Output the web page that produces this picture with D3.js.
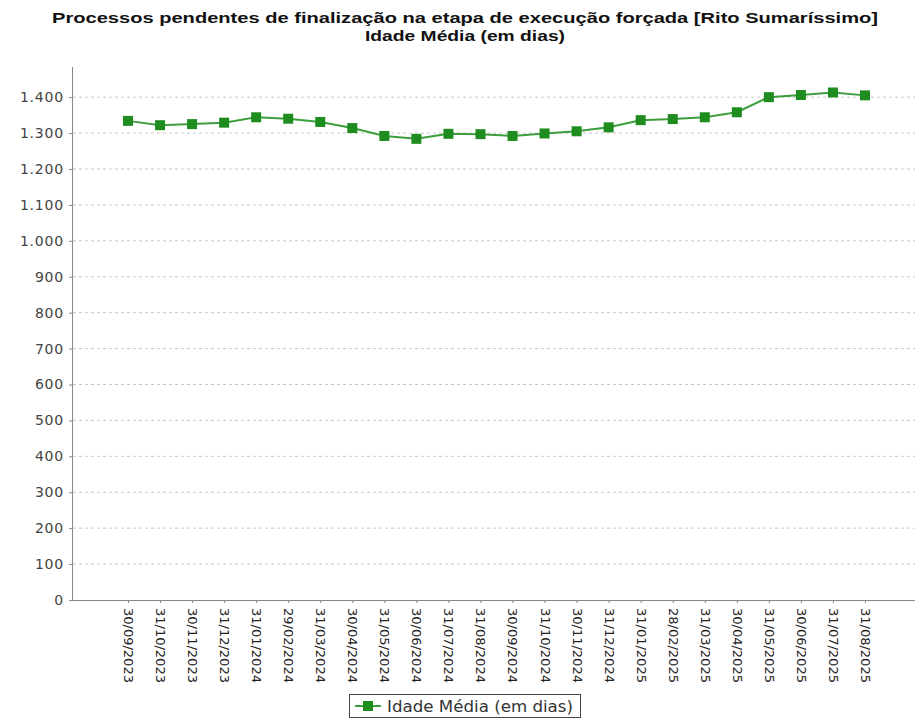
<!DOCTYPE html>
<html>
<head>
<meta charset="utf-8">
<script src="https://cdn.jsdelivr.net/npm/d3@7"></script>
<style>
  body { margin: 0; background: #fff; }
  svg { display: block; }
</style>
</head>
<body>
<svg id="chart" width="917" height="720"></svg>
<script>
const titleLines = ["Processos pendentes de finalização na etapa de execução forçada [Rito Sumaríssimo]", "Idade Média (em dias)"];
const categories = ["30/09/2023","31/10/2023","30/11/2023","31/12/2023","31/01/2024","29/02/2024","31/03/2024","30/04/2024","31/05/2024","30/06/2024","31/07/2024","31/08/2024","30/09/2024","31/10/2024","30/11/2024","31/12/2024","31/01/2025","28/02/2025","31/03/2025","30/04/2025","31/05/2025","30/06/2025","31/07/2025","31/08/2025"];
const seriesName = "Idade Média (em dias)";
const values = [1334,1322,1325,1329,1344,1340,1331,1314,1292,1284,1298,1297,1292,1299,1305,1316,1336,1339,1344,1358,1400,1406,1413,1405];
const yTicks = [0,100,200,300,400,500,600,700,800,900,1000,1100,1200,1300,1400];

const svg = d3.select("#chart");
const axisX = 73, axisRight = 915, yBottom = 600, yTop = 67;

const fmt = v => d3.format(",")(v).replace(/,/g, ".");

const y = d3.scaleLinear().domain([0, 1484]).range([yBottom, yTop]);
const x = d3.scalePoint().domain(categories).range([128, 865]);

// title
const titleWidths = [826, 200];
svg.append("g").selectAll("text").data(titleLines).join("text")
  .attr("x", 465).attr("y", (d, i) => 23 + i * 18)
  .attr("text-anchor", "middle")
  .attr("font-family", "Liberation Sans, Arial, sans-serif")
  .attr("font-weight", "bold").attr("font-size", 15.5)
  .attr("fill", "#111")
  .attr("textLength", (d, i) => titleWidths[i])
  .attr("lengthAdjust", "spacingAndGlyphs")
  .text(d => d);

// gridlines
svg.append("g").selectAll("line").data(yTicks.filter(d => d > 0)).join("line")
  .attr("x1", axisX).attr("x2", axisRight)
  .attr("y1", d => y(d)).attr("y2", d => y(d))
  .attr("stroke", "#c8c8c8").attr("stroke-width", 1)
  .attr("stroke-dasharray", "3,3");

// y axis
const yAxis = svg.append("g").attr("transform", `translate(${axisX},0)`)
  .call(d3.axisLeft(y).tickValues(yTicks).tickFormat(fmt).tickSize(4).tickPadding(5));
yAxis.select(".domain").attr("stroke", "#888").attr("d", `M-0.5,${yTop}V${yBottom}`);
yAxis.selectAll(".tick line").attr("stroke", "#888");
yAxis.selectAll(".tick text").attr("font-family", "DejaVu Sans, sans-serif")
  .attr("font-size", 14).attr("letter-spacing", 0.8).attr("fill", "#444");

// x axis
const xAxis = svg.append("g").attr("transform", `translate(0,${yBottom})`)
  .call(d3.axisBottom(x).tickSize(3).tickPadding(4));
xAxis.select(".domain").attr("stroke", "#888").attr("d", `M${axisX},0.5H${axisRight}`);
xAxis.selectAll(".tick line").attr("stroke", "#888");
xAxis.selectAll(".tick text")
  .attr("font-family", "DejaVu Sans, sans-serif").attr("font-size", 13).attr("fill", "#222")
  .attr("text-anchor", "start")
  .attr("transform", "rotate(90)")
  .attr("x", 8).attr("y", 0).attr("dy", "0.35em");

// line
const line = d3.line().x((d, i) => x(categories[i])).y(d => y(d));
svg.append("path").datum(values)
  .attr("d", line).attr("fill", "none")
  .attr("stroke", "#3c9e3c").attr("stroke-width", 2);

// markers
svg.append("g").selectAll("rect").data(values).join("rect")
  .attr("x", (d, i) => x(categories[i]) - 5).attr("y", d => y(d) - 5)
  .attr("width", 10).attr("height", 10)
  .attr("fill", "#1f8c1f");

// legend
const lg = svg.append("g");
lg.append("rect").attr("x", 349.5).attr("y", 694.5).attr("width", 231).attr("height", 23)
  .attr("fill", "#fff").attr("stroke", "#444").attr("stroke-width", 1);
lg.append("line").attr("x1", 355).attr("x2", 381).attr("y1", 706).attr("y2", 706)
  .attr("stroke", "#3c9e3c").attr("stroke-width", 2);
lg.append("rect").attr("x", 363).attr("y", 701).attr("width", 10).attr("height", 10).attr("fill", "#1f8c1f");
lg.append("text").attr("x", 387).attr("y", 711.5)
  .attr("font-family", "DejaVu Sans, sans-serif").attr("font-size", 15).attr("fill", "#333")
  .attr("textLength", 186).attr("lengthAdjust", "spacingAndGlyphs")
  .text(seriesName);
</script>
</body>
</html>
